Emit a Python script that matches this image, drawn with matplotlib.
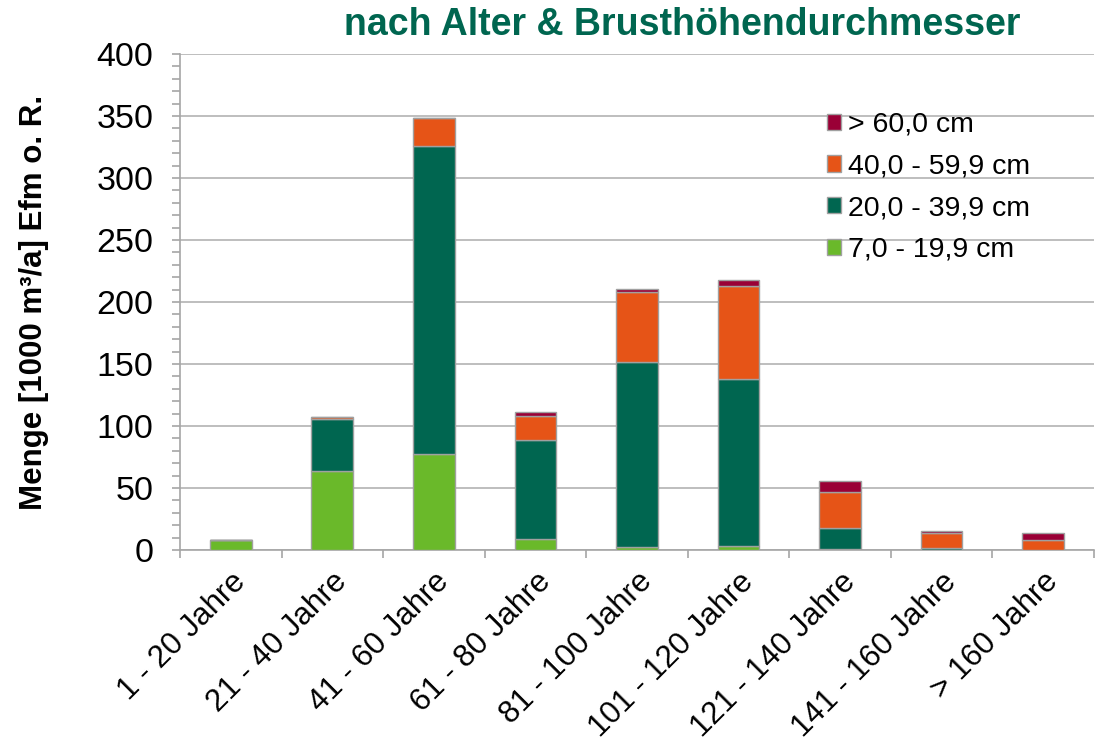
import matplotlib
matplotlib.use("Agg")
import matplotlib.pyplot as plt
import numpy as np
from matplotlib.ticker import MultipleLocator

plt.rcParams['font.family'] = ['Liberation Sans', 'DejaVu Sans']

# Altersklassen
kategorien = ["1 - 20 Jahre", "21 - 40 Jahre", "41 - 60 Jahre", "61 - 80 Jahre",
              "81 - 100 Jahre", "101 - 120 Jahre", "121 - 140 Jahre",
              "141 - 160 Jahre", "> 160 Jahre"]

# Menge [1000 m3/a] je Durchmesserklasse
bhd_7_20 = [8, 64, 77, 9, 2, 3, 0.5, 0, 0]
bhd_20_40 = [0, 42, 249, 80, 150, 135, 17.5, 1.6, 0]
bhd_40_60 = [0, 1.5, 22, 19, 56, 75, 28.5, 12, 8]
bhd_60 = [0, 0, 0, 3.5, 2.5, 4.5, 9, 2, 5.5]

serien = [("7,0 - 19,9 cm", bhd_7_20, "#6ab92a"),
          ("20,0 - 39,9 cm", bhd_20_40, "#006650"),
          ("40,0 - 59,9 cm", bhd_40_60, "#e65417"),
          ("> 60,0 cm", bhd_60, "#9a0036")]

fig = plt.figure(figsize=(11.02, 7.44), dpi=100)
ax = fig.add_axes([0.1633, 0.2608, 0.8294, 0.6666])

x = np.arange(len(kategorien))
unten = np.zeros(len(kategorien))
for name, werte, farbe in serien:
    ax.bar(x, werte, width=0.41, bottom=unten, color=farbe, edgecolor="#a0a0a0",
           linewidth=1, label=name, zorder=3)
    unten += np.array(werte)

ax.set_xlim(-0.5, len(kategorien) - 0.5)
ax.set_ylim(0, 400)
ax.yaxis.set_major_locator(MultipleLocator(50))
ax.yaxis.set_minor_locator(MultipleLocator(10))
ax.grid(axis="y", color="#b3b3b3", linewidth=1.2, zorder=0)

for s in ["top", "right"]:
    ax.spines[s].set_visible(False)
ax.spines["left"].set_color("#a6a6a6")
ax.spines["bottom"].set_color("#a6a6a6")
ax.spines["left"].set_linewidth(1.2)
ax.spines["bottom"].set_linewidth(1.2)

ax.tick_params(axis="y", which="major", length=6, width=1.2, color="#a6a6a6",
               labelsize=24.5, pad=13)
ax.tick_params(axis="y", which="minor", length=5.5, width=1.2, color="#a6a6a6")

# x-Ticks an den Kategoriegrenzen, Beschriftung mittig
ax.set_xticks(np.arange(len(kategorien) + 1) - 0.5)
ax.set_xticklabels([])
ax.tick_params(axis="x", which="major", length=6, width=1.2, color="#a6a6a6")
ax.set_xticks(x, minor=True)
ax.set_xticklabels(kategorien, minor=True, rotation=45, ha="right",
                   rotation_mode="anchor", fontsize=22.5)
ax.tick_params(axis="x", which="minor", length=0, pad=12)

ax.set_ylabel("Menge [1000 m³/a] Efm o. R.", fontsize=22.5, fontweight="bold")
ax.yaxis.set_label_coords(-0.143, 0.5)

h, l = ax.get_legend_handles_labels()
ax.legend(h[::-1], l[::-1], loc="upper left", bbox_to_anchor=(0.68, 0.935),
          frameon=False, fontsize=20.5, handlelength=0.5, handleheight=0.5,
          handletextpad=0.25, labelspacing=0.55)

fig.text(0.619, 0.966, "nach Alter & Brusthöhendurchmesser", ha="center",
         va="center", fontsize=27, fontweight="bold", color="#006650")

fig.savefig("out.png", dpi=100)
